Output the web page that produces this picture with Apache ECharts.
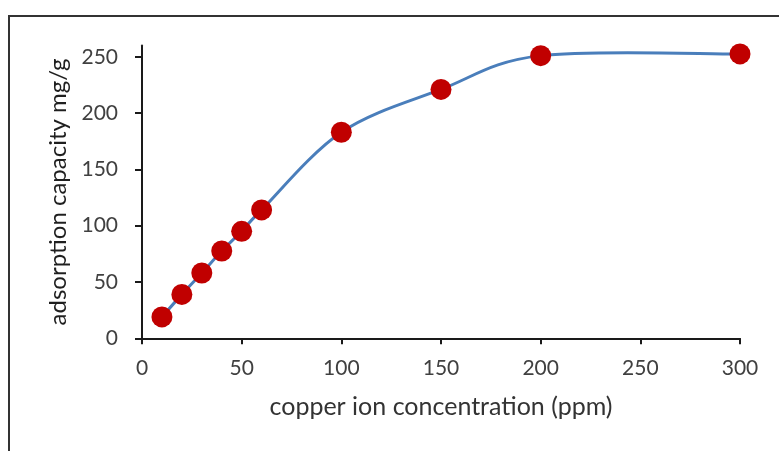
<!DOCTYPE html>
<html>
<head>
<meta charset="utf-8">
<script src="https://cdn.jsdelivr.net/npm/echarts@6/dist/echarts.min.js"></script>
<style>
  html, body { margin: 0; padding: 0; background: #fff; }
  #chart { width: 779px; height: 451px; }
</style>
</head>
<body>
<div id="chart"></div>
<script>
// Copper ion concentration (ppm) vs. adsorption capacity (mg/g)
const concentration = [10, 20, 30, 40, 50, 60, 100, 150, 200, 300];
const capacity = [19, 39, 58, 77.5, 95, 114, 183, 221, 251, 252.5];
const xTicks = [0, 50, 100, 150, 200, 250, 300];
const yTicks = [0, 50, 100, 150, 200, 250];

const FONT = 'Lato';
const chart = echarts.init(document.getElementById('chart'), null, { renderer: 'canvas' });

const points = concentration.map((c, i) => [c, capacity[i]]);

// Smoothed trend line: cubic Bezier segments through every point,
// tangents from neighbouring points (Catmull-Rom, tension 1/6).
function renderCurve(params, api) {
  if (params.dataIndex !== 0) return null;
  const p = points.map(v => api.coord(v));
  const n = p.length;
  const children = [];
  for (let i = 0; i < n - 1; i++) {
    const p0 = p[Math.max(i - 1, 0)];
    const p1 = p[i];
    const p2 = p[i + 1];
    const p3 = p[Math.min(i + 2, n - 1)];
    children.push({
      type: 'bezierCurve',
      shape: {
        x1: p1[0], y1: p1[1],
        cpx1: p1[0] + (p2[0] - p0[0]) / 6, cpy1: p1[1] + (p2[1] - p0[1]) / 6,
        cpx2: p2[0] - (p3[0] - p1[0]) / 6, cpy2: p2[1] - (p3[1] - p1[1]) / 6,
        x2: p2[0], y2: p2[1]
      },
      style: { stroke: '#4a7ebb', lineWidth: 3, fill: null, lineCap: 'round' }
    });
  }
  return { type: 'group', children };
}

chart.setOption({
  backgroundColor: '#ffffff',
  animation: false,
  graphic: [{
    type: 'rect',
    shape: { x: 9, y: 16, width: 900, height: 600 },
    style: { fill: 'none', stroke: '#333333', lineWidth: 2 },
    silent: true
  }],
  grid: { left: 142, right: 39, top: 45.5, bottom: 112.7, containLabel: false },
  xAxis: {
    type: 'value',
    min: 0, max: 300, interval: 50,
    name: 'copper ion concentration (ppm)',
    nameLocation: 'middle',
    nameGap: 56,
    nameTextStyle: { fontFamily: FONT, fontSize: 25, color: '#333333' },
    axisLine: { lineStyle: { color: '#1a1a1a', width: 2 } },
    axisTick: { show: true, length: 6, lineStyle: { color: '#1a1a1a', width: 2 }, customValues: xTicks },
    axisLabel: { fontFamily: FONT, fontSize: 21, color: '#404040', margin: 19, customValues: xTicks },
    splitLine: { show: false }
  },
  yAxis: {
    type: 'value',
    min: 0, max: 260,
    name: 'adsorption capacity mg/g',
    nameLocation: 'middle',
    nameGap: 68,
    nameTextStyle: { fontFamily: FONT, fontSize: 24, color: '#1f1f1f' },
    axisLine: { show: true, lineStyle: { color: '#1a1a1a', width: 2 } },
    axisTick: { show: true, length: 7, lineStyle: { color: '#1a1a1a', width: 2 }, customValues: yTicks },
    axisLabel: { fontFamily: FONT, fontSize: 21, color: '#404040', margin: 24, customValues: yTicks },
    splitLine: { show: false }
  },
  series: [{
    type: 'custom',
    renderItem: renderCurve,
    data: points,
    silent: true,
    z: 2
  }, {
    type: 'scatter',
    data: points,
    symbol: 'circle',
    symbolSize: 21,
    itemStyle: { color: '#c00000', borderWidth: 0, opacity: 1 },
    z: 3
  }]
});
</script>
</body>
</html>
